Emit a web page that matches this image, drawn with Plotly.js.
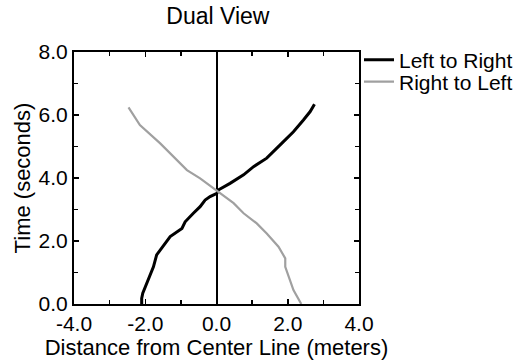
<!DOCTYPE html>
<html>
<head>
<meta charset="utf-8">
<script src="https://cdn.plot.ly/plotly-3.0.1.min.js"></script>
<style>html,body{margin:0;padding:0;background:#fff;}#chart{width:525px;height:362px;}</style>
</head>
<body>
<div id="chart"></div>
<script>
// Left to Right (black)
const ltrX = [-2.10, -2.10, -2.07, -1.91, -1.77, -1.68, -1.58, -1.30, -0.97, -0.88, -0.65, -0.46, -0.32, -0.18, 0.01, 0.05, 0.38, 0.76, 1.04, 1.41, 1.83, 2.16, 2.44, 2.63, 2.75];
const ltrY = [0.00, 0.18, 0.34, 0.76, 1.18, 1.56, 1.71, 2.14, 2.40, 2.61, 2.88, 3.09, 3.30, 3.41, 3.51, 3.62, 3.83, 4.10, 4.36, 4.63, 5.10, 5.47, 5.84, 6.11, 6.34];
// Right to Left (gray)
const rtlX = [2.38, 2.16, 1.93, 1.93, 1.74, 1.41, 1.13, 0.76, 0.48, 0.05, -0.09, -0.46, -0.83, -1.21, -1.58, -2.15, -2.47];
const rtlY = [0.00, 0.44, 1.18, 1.45, 1.82, 2.24, 2.56, 2.88, 3.20, 3.57, 3.67, 3.99, 4.25, 4.68, 5.10, 5.68, 6.24];
const tickVals = [-4, -2, 0, 2, 4];
const tickText = ["-4.0", "-2.0", "0.0", "2.0", "4.0"];
const yTickVals = [0, 2, 4, 6, 8];
const yTickText = ["0.0", "2.0", "4.0", "6.0", "8.0"];

const FONT = "Liberation Sans, Arial, Helvetica, sans-serif";

const traces = [
  {x: ltrX, y: ltrY, mode: "lines", name: "Left to Right", legend: "legend",
   line: {color: "#000", width: 3}},
  {x: rtlX, y: rtlY, mode: "lines", name: "Right to Left", legend: "legend2",
   line: {color: "#a0a0a0", width: 2.2}}
];

const axisCommon = {
  showgrid: false, showline: true, linecolor: "#000", linewidth: 2,
  mirror: "ticks", ticks: "inside", ticklen: 5, tickcolor: "#000", tickwidth: 1.5,
  tickfont: {family: FONT, size: 21, color: "#000"},
  automargin: false,
  minor: {dtick: 1, ticks: "inside", ticklen: 4, tickcolor: "#000", tickwidth: 1.5, showgrid: false}
};

const legendCommon = {
  xanchor: "left", yanchor: "middle",
  font: {family: FONT, size: 21, color: "#000"},
  bgcolor: "rgba(0,0,0,0)", itemwidth: 30
};

const layout = {
  width: 525, height: 362,
  margin: {l: 74, r: 166, t: 52, b: 58, autoexpand: false},
  paper_bgcolor: "#fff", plot_bgcolor: "#fff",
  font: {family: FONT, color: "#000"},
  title: {text: "Dual View", x: 0.415, xanchor: "center", y: 0.955, yanchor: "middle",
          font: {family: FONT, size: 23, color: "#000"}},
  xaxis: Object.assign({}, axisCommon, {
    range: [-4, 4], tickvals: tickVals, ticktext: tickText,
    zeroline: true, zerolinecolor: "#000", zerolinewidth: 2,
    title: {text: "Distance from Center Line (meters)", standoff: 0,
            font: {family: FONT, size: 22, color: "#000"}}
  }),
  yaxis: Object.assign({}, axisCommon, {
    range: [0, 8], tickvals: yTickVals, ticktext: yTickText,
    zeroline: false,
    title: {text: "Time (seconds)", standoff: 2,
            font: {family: FONT, size: 22, color: "#000"}}
  }),
  showlegend: true,
  legend: Object.assign({}, legendCommon, {x: 1.0, y: 0.968}),
  legend2: Object.assign({}, legendCommon, {x: 1.0, y: 0.881})
};

Plotly.newPlot("chart", traces, layout, {displayModeBar: false, staticPlot: true});
</script>
</body>
</html>
